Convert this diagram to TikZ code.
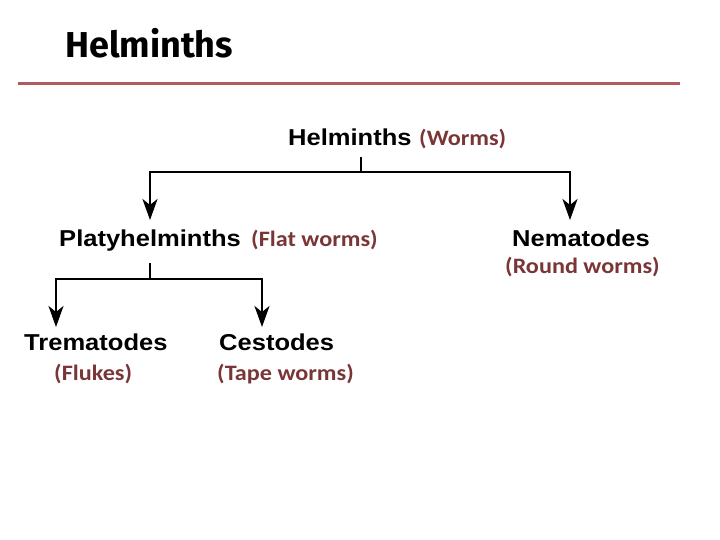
\documentclass[tikz,border=0pt]{standalone}
\usepackage{fontspec}
\usetikzlibrary{arrows.meta}
\newfontfamily\arialb{Liberation Sans}[BoldFont={* Bold}]
\newfontfamily\calb{Carlito}[BoldFont={* Bold}]
\newfontfamily\titlef{Fira Sans}[BoldFont={* Bold}]
\definecolor{sub}{RGB}{122,54,54}
\definecolor{rule}{RGB}{176,92,92}
\tikzset{
  lab/.style={font=\arialb\bfseries\fontsize{23}{23}\selectfont, xscale=1.11, inner sep=0pt, anchor=base west},
  sublab/.style={font=\calb\bfseries\fontsize{22}{22}\selectfont, text=sub, xscale=1.1, inner sep=0pt, anchor=base west},
  conn/.style={line width=2.5pt},
  arr/.style={line width=2.5pt, -{Stealth[length=21pt,width=15pt,inset=6pt]}}
}
\begin{document}
\begin{tikzpicture}[x=1pt,y=-1pt]
\useasboundingbox (0,0) rectangle (720,540);
\node[font=\titlef\bfseries\fontsize{36}{36}\selectfont, inner sep=0pt, anchor=base west] (title) at (65,58) {Helminths};
\draw[rule, line width=3pt] (18,84) -- (680,84);

\node[lab] (root) at (288,146) {Helminths};
\node[sublab] (rootsub) at (419,146) {(Worms)};
\node[lab] (platy) at (59,247) {Platyhelminths};
\node[sublab] (platysub) at (251,247) {(Flat worms)};
\node[lab] (nema) at (512,247) {Nematodes};
\node[sublab] (nemasub) at (505,273) {(Round worms)};
\node[lab] (trem) at (24,350) {Trematodes};
\node[sublab] (tremsub) at (54,380) {(Flukes)};
\node[lab] (cest) at (219,350) {Cestodes};
\node[sublab] (cestsub) at (217,380) {(Tape worms)};

\coordinate (rootstub) at (361,157);
\coordinate (rootjoin) at (361,172);
\coordinate (platytip) at (150,220);
\coordinate (nematip) at (570,220);
\coordinate (platystub) at (150,263);
\coordinate (platyjoin) at (150,279);
\coordinate (tremtip) at (56,327);
\coordinate (cesttip) at (262,327);

\draw[conn] (rootstub) -- (rootjoin);
\draw[arr] (rootjoin) -| (platytip);
\draw[arr] (rootjoin) -| (nematip);
\draw[conn] (platystub) -- (platyjoin);
\draw[arr] (platyjoin) -| (tremtip);
\draw[arr] (platyjoin) -| (cesttip);
\end{tikzpicture}
\end{document}
